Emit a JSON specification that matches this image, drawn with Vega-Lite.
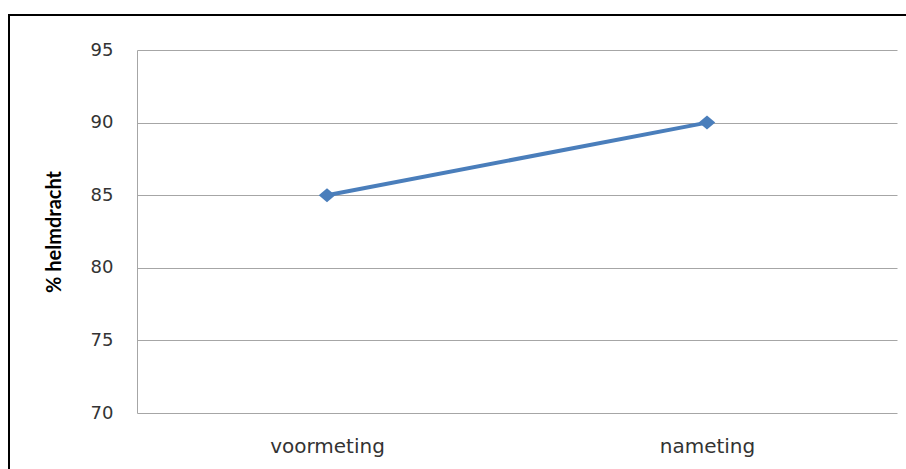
{
  "$schema": "https://vega.github.io/schema/vega-lite/v6.json",
  "autosize": {"type": "none"},
  "width": 899,
  "height": 456,
  "padding": {"left": 9, "top": 15, "right": -2, "bottom": -2},
  "background": "white",
  "config": {"view": {"stroke": "black", "strokeWidth": 2}},
  "data": {"values": [
    {"meting": "voormeting", "helmdracht": 85},
    {"meting": "nameting", "helmdracht": 90}
  ]},
  "encoding": {
    "x": {
      "field": "meting", "type": "nominal", "sort": null,
      "scale": {"type": "point", "range": [128, 888], "padding": 0.5},
      "axis": {"title": null, "orient": "bottom", "offset": -58, "domain": false, "ticks": false, "grid": false, "labelAngle": 0, "labelFont": "DejaVu Sans", "labelFontSize": 20, "labelColor": "#333333", "labelPadding": 23}
    },
    "y": {
      "field": "helmdracht", "type": "quantitative",
      "scale": {"domain": [70, 95], "range": [398, 35], "nice": false, "zero": false},
      "axis": {"values": [70, 75, 80, 85, 90, 95], "offset": -128, "domainColor": "#a6a6a6", "ticks": false, "grid": true, "gridColor": "#a6a6a6", "labelFont": "DejaVu Sans", "labelFontSize": 18, "labelColor": "#333333", "labelPadding": 24, "title": "% helmdracht", "titleFont": "Lato", "titleFontSize": 20, "titleFontWeight": "bold", "titleColor": "black", "titlePadding": 26}
    }
  },
  "layer": [
    {"mark": {"type": "line", "color": "#4A7EBB", "strokeWidth": 4}},
    {"mark": {"type": "point", "filled": true, "opacity": 1, "color": "#4A7EBB", "shape": "M-1,0L0,-0.85L1,0L0,0.85Z", "size": 272}}
  ]
}
